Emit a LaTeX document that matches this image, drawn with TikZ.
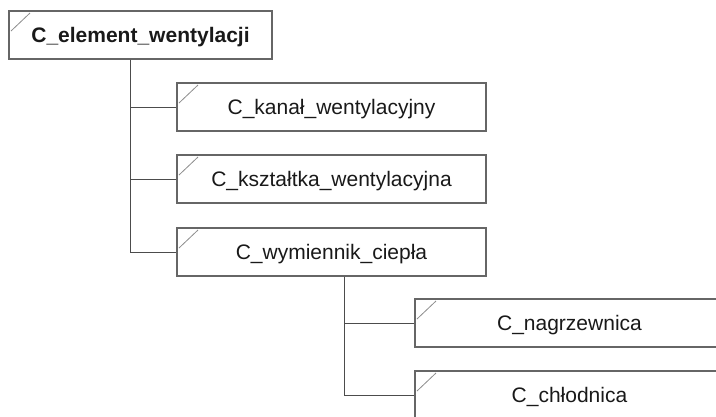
\documentclass[tikz,border=0pt]{standalone}
\usepackage{fontspec}
\setmainfont{Liberation Sans}
\begin{document}
\begin{tikzpicture}[x=1pt,y=-1pt,
  classbox/.style={draw=black!60,line width=1.2pt,rectangle,inner sep=0pt,
    minimum width=309pt,minimum height=48pt,text height=15pt,text depth=0pt,
    text=black!90,font=\fontsize{21}{25}\selectfont,
    path picture={\draw[black!45,line width=0.8pt]
      ([xshift=2pt,yshift=-20pt]path picture bounding box.north west) --
      ([xshift=21pt,yshift=-2pt]path picture bounding box.north west);}},
  rootbox/.style={classbox,minimum width=263pt,font=\fontsize{21}{25}\selectfont\bfseries},
  link/.style={draw=black!70,line width=0.9pt}]
\useasboundingbox (0,0) rectangle (716,416);
\clip (0,0) rectangle (716,416);

% class hierarchy
\node[rootbox]  (root) at (140.5,35)  {C\_element\_wentylacji};
\node[classbox] (kanal) at (331.5,107) {C\_kanał\_wentylacyjny};
\node[classbox] (ksztaltka) at (331.5,179) {C\_kształtka\_wentylacyjna};
\node[classbox] (wymiennik) at (331.5,252) {C\_wymiennik\_ciepła};
\node[classbox] (nagrzewnica) at (569.5,323) {C\_nagrzewnica};
\node[classbox] (chlodnica) at (569.5,395) {C\_chłodnica};

% trunk positions
\coordinate (ta) at (130,0);
\coordinate (tb) at (344,0);

\draw[link] (ta |- root.south) |- (kanal.west);
\draw[link] (ta |- root.south) |- (ksztaltka.west);
\draw[link] (ta |- root.south) |- (wymiennik.west);
\draw[link] (tb |- wymiennik.south) |- (nagrzewnica.west);
\draw[link] (tb |- wymiennik.south) |- (chlodnica.west);
\end{tikzpicture}
\end{document}
